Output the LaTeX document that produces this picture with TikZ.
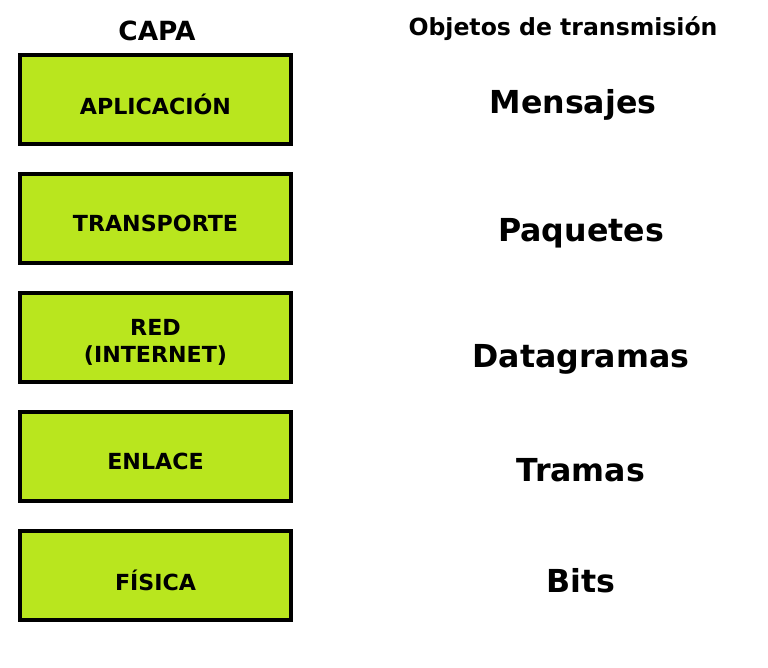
\documentclass[tikz,border=0pt]{standalone}
\usepackage{fontspec}
\setmainfont{DejaVu Sans}
\definecolor{capagreen}{RGB}{185,230,30}
\tikzset{
  capa/.style={draw=black,line width=0.4mm,fill=capagreen,minimum width=2.71cm,minimum height=0.88cm},
  capatexto/.style={align=center,font=\bfseries\fontsize{6.3}{7.6}\selectfont},
  objeto/.style={font=\bfseries\fontsize{9}{11}\selectfont},
  cabecera/.style={font=\bfseries\fontsize{7.5}{9}\selectfont}
}
\begin{document}
\begin{tikzpicture}[x=0.01cm,y=-0.01cm]
  \useasboundingbox (0,0) rectangle (768,668);
  \node[cabecera] (hcapa) at (157,31) {CAPA};
  \node[cabecera,font=\bfseries\fontsize{6.7}{8}\selectfont] (hobj) at (563,29) {Objetos de transmisión};
  \foreach \y/\n/\l/\o/\ox/\oy in {99.5/apl/APLICACIÓN/Mensajes/573/105, 218.5/tra/TRANSPORTE/Paquetes/581/233,
      337.5/red/{RED\\(INTERNET)}/Datagramas/581/359, 456.5/enl/ENLACE/Tramas/581/470, 575.5/fis/FÍSICA/Bits/581/581}
  {
    \node[capa] (\n) at (155.5,\y) {};
    \node[capatexto] (t\n) at ([yshift=-0.05cm]\n.center) {\l};
    \node[objeto] (obj\n) at (\ox,\oy) {\o};
  }
\end{tikzpicture}
\end{document}
